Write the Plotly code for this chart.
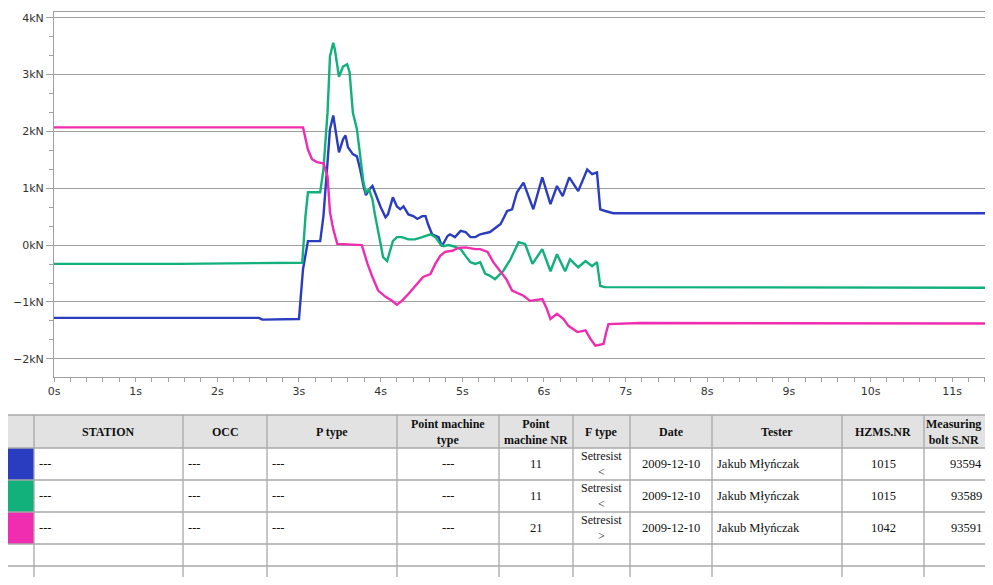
import plotly.graph_objects as go

# ---------------- chart data (time in s, force in kN) ----------------
t_blue = [0.0, 2.51, 2.55, 3.0, 3.05, 3.11, 3.26, 3.30, 3.35, 3.38, 3.42, 3.44, 3.49, 3.54, 3.57,
          3.60, 3.66, 3.71, 3.75, 3.79, 3.82, 3.86, 3.90, 3.93, 4.0, 4.06, 4.09, 4.15, 4.2, 4.24,
          4.28, 4.34, 4.40, 4.45, 4.51, 4.55, 4.58, 4.63, 4.71, 4.75, 4.82, 4.85, 4.91, 4.98, 5.04,
          5.10, 5.16, 5.22, 5.34, 5.47, 5.55, 5.61, 5.67, 5.75, 5.87, 5.98, 6.08, 6.16, 6.23, 6.31,
          6.42, 6.53, 6.59, 6.65, 6.69, 6.75, 6.85, 11.5]
f_blue = [-1.28, -1.28, -1.31, -1.30, -0.42, 0.07, 0.07, 0.51, 1.46, 2.04, 2.28, 2.09, 1.63, 1.86, 1.93,
          1.72, 1.6, 1.56, 1.33, 1.04, 0.88, 0.98, 1.04, 0.93, 0.67, 0.49, 0.54, 0.84, 0.68, 0.63,
          0.68, 0.54, 0.51, 0.46, 0.51, 0.51, 0.37, 0.19, 0.14, -0.02, 0.16, 0.19, 0.14, 0.25, 0.23,
          0.14, 0.14, 0.19, 0.23, 0.37, 0.6, 0.63, 0.93, 1.1, 0.63, 1.19, 0.72, 1.04, 0.86, 1.19,
          0.95, 1.33, 1.25, 1.28, 0.63, 0.6, 0.56, 0.56]

t_green = [0.0, 1.52, 3.04, 3.08, 3.11, 3.26, 3.30, 3.35, 3.38, 3.42, 3.44, 3.49, 3.54, 3.59, 3.62,
           3.66, 3.71, 3.75, 3.79, 3.82, 3.86, 3.90, 3.93, 4.0, 4.03, 4.08, 4.12, 4.15, 4.2, 4.26,
           4.34, 4.42, 4.51, 4.55, 4.61, 4.67, 4.73, 4.77, 4.83, 4.89, 4.98, 5.04, 5.10, 5.16, 5.22,
           5.28, 5.34, 5.40, 5.5, 5.59, 5.69, 5.77, 5.86, 5.98, 6.08, 6.16, 6.26, 6.32, 6.42, 6.51,
           6.59, 6.65, 6.69, 6.75, 11.5]
f_green = [-0.33, -0.33, -0.31, 0.51, 0.93, 0.93, 1.33, 2.33, 3.32, 3.56, 3.44, 2.96, 3.14, 3.18, 3.04,
           2.33, 2.04, 1.56, 1.1, 0.93, 0.98, 0.8, 0.54, 0.02, -0.21, -0.28, -0.1, 0.07, 0.14, 0.14,
           0.1, 0.1, 0.14, 0.16, 0.19, 0.14, 0.02, -0.02, 0.0, -0.02, -0.07, -0.19, -0.3, -0.33, -0.3,
           -0.5, -0.54, -0.6, -0.46, -0.25, 0.05, 0.02, -0.33, -0.07, -0.46, -0.16, -0.46, -0.25, -0.39, -0.28,
           -0.37, -0.3, -0.72, -0.74, -0.75]

t_pink = [0.0, 3.05, 3.11, 3.16, 3.22, 3.30, 3.35, 3.38, 3.42, 3.47, 3.77, 3.81, 3.84, 3.90, 3.97,
          4.06, 4.14, 4.2, 4.26, 4.34, 4.45, 4.52, 4.61, 4.67, 4.73, 4.79, 4.88, 4.95, 5.04, 5.16,
          5.22, 5.31, 5.38, 5.47, 5.54, 5.61, 5.75, 5.83, 5.98, 6.03, 6.08, 6.16, 6.24, 6.3, 6.41,
          6.51, 6.57, 6.63, 6.73, 6.76, 6.79, 7.18, 11.5]
f_pink = [2.07, 2.07, 1.68, 1.51, 1.46, 1.44, 1.21, 0.58, 0.28, 0.02, 0.0, -0.19, -0.33, -0.56, -0.8,
          -0.91, -0.98, -1.05, -0.98, -0.86, -0.68, -0.56, -0.51, -0.33, -0.19, -0.12, -0.1, -0.05, -0.04, -0.07,
          -0.07, -0.12, -0.3, -0.47, -0.6, -0.8, -0.89, -0.98, -0.95, -1.1, -1.3, -1.21, -1.3, -1.42, -1.53,
          -1.5, -1.65, -1.77, -1.74, -1.55, -1.39, -1.37, -1.38]

series_colors = ["#2a3cc0", "#12b07a", "#f02cb0"]

# ---------------- table data ----------------
header_labels = ["", "STATION", "OCC", "P type", "Point machine<br>type", "Point<br>machine NR",
                 "F type", "Date", "Tester", "HZMS.NR", "Measuring<br>bolt S.NR"]
col_station = ["---", "---", "---"]
col_occ = ["---", "---", "---"]
col_ptype = ["---", "---", "---"]
col_pm_type = ["---", "---", "---"]
col_pm_nr = ["11", "11", "21"]
col_ftype = ["Setresist<br>&lt;", "Setresist<br>&lt;", "Setresist<br>&gt;"]
col_date = ["2009-12-10", "2009-12-10", "2009-12-10"]
col_tester = ["Jakub Młyńczak", "Jakub Młyńczak", "Jakub Młyńczak"]
col_hzms = ["1015", "1015", "1042"]
col_bolt = ["93594", "93589", "93591"]

# ---------------- layout geometry (page pixels) ----------------
PAGE_W, PAGE_H = 993, 585
OFF = 8                      # default body margin of the html page
W, H = PAGE_W - OFF, PAGE_H - 2 * OFF     # keep page free of scrollbars
PLOT_L, PLOT_T, PLOT_B = 54, 12, 377       # plot area edges on the page
ML, MR, MT = PLOT_L - OFF, 0, PLOT_T - OFF
MB = H - (PLOT_B - OFF)
col_edges = [7, 34, 183, 267, 397, 499, 573, 630, 712, 842, 924, 1020]
row_edges = [415, 448, 480, 512, 544, 566, 600]
col_align = ["left", "left", "left", "left", "center", "center", "center", "center", "left", "center", "center"]


def px_x(x):
    return (x - PLOT_L) / (W - ML - MR)


def px_y(y):
    return (PLOT_B - y) / (H - MT - MB)


fig = go.Figure()
for t, f, c in [(t_blue, f_blue, series_colors[0]),
                (t_green, f_green, series_colors[1]),
                (t_pink, f_pink, series_colors[2])]:
    fig.add_trace(go.Scatter(x=t, y=f, mode="lines", line=dict(color=c, width=2.4),
                             showlegend=False, hoverinfo="skip"))

axis_grey = "#a0a0a0"
tick_font = dict(family="DejaVu Sans", size=11, color="#333333")

fig.update_xaxes(range=[0, 11.5], dtick=1, tick0=0, ticksuffix="s", showgrid=False,
                 showline=True, linecolor=axis_grey, linewidth=1, mirror=True,
                 ticks="outside", ticklen=4, tickcolor=axis_grey, tickfont=tick_font,
                 zeroline=False,
                 minor=dict(dtick=0.2, ticks="outside", ticklen=4, tickcolor=axis_grey, showgrid=False))
fig.update_yaxes(range=[-2.32, 4.1], dtick=1, tick0=0, ticksuffix="kN", showgrid=True,
                 gridcolor=axis_grey, gridwidth=1.3, zeroline=False,
                 showline=True, linecolor=axis_grey, linewidth=1,
                 ticks="outside", ticklen=7, tickcolor=axis_grey, tickfont=tick_font,
                 minor=dict(dtick=1 / 3, ticks="outside", ticklen=4, tickcolor=axis_grey, showgrid=False))

shapes = []
annotations = []
line_grey = "#a8a8a8"

# header background
shapes.append(dict(type="rect", xref="paper", yref="paper",
                   x0=px_x(col_edges[0]), x1=px_x(col_edges[-1]),
                   y0=px_y(row_edges[0]), y1=px_y(row_edges[1]),
                   fillcolor="#e2e2e2", line=dict(width=0), layer="below"))
# colour swatches
for i, c in enumerate(series_colors):
    shapes.append(dict(type="rect", xref="paper", yref="paper",
                       x0=px_x(col_edges[0]), x1=px_x(col_edges[1]),
                       y0=px_y(row_edges[i + 1]), y1=px_y(row_edges[i + 2]),
                       fillcolor=c, line=dict(width=0), layer="below"))
# grid lines
for y in row_edges[:-1]:
    shapes.append(dict(type="line", xref="paper", yref="paper",
                       x0=px_x(col_edges[0]), x1=px_x(col_edges[-1]), y0=px_y(y), y1=px_y(y),
                       line=dict(color=line_grey, width=1.3)))
for x in col_edges[:-1]:
    shapes.append(dict(type="line", xref="paper", yref="paper",
                       x0=px_x(x), x1=px_x(x), y0=px_y(row_edges[0]), y1=px_y(row_edges[-1]),
                       line=dict(color=line_grey, width=1.3)))

# header texts
last = len(header_labels) - 1
for j, lab in enumerate(header_labels):
    if not lab:
        continue
    cy = (row_edges[0] + row_edges[1]) / 2
    if j == last:
        x, xa = px_x(983), "right"
    else:
        x, xa = px_x((col_edges[j] + col_edges[j + 1]) / 2), "center"
    annotations.append(dict(x=x, y=px_y(cy), xref="paper", yref="paper", text="<b>" + lab + "</b>",
                            showarrow=False, xanchor=xa, yanchor="middle",
                            font=dict(family="Liberation Serif", size=12, color="#111111")))

columns = [None, col_station, col_occ, col_ptype, col_pm_type, col_pm_nr, col_ftype,
           col_date, col_tester, col_hzms, col_bolt]
for j, col in enumerate(columns):
    if col is None:
        continue
    for i, val in enumerate(col):
        cy = (row_edges[i + 1] + row_edges[i + 2]) / 2
        if col_align[j] == "left":
            x = px_x(col_edges[j] + 3)
            xa = "left"
        elif j == last:
            x = px_x(966)
            xa = "center"
        else:
            x = px_x((col_edges[j] + col_edges[j + 1]) / 2)
            xa = "center"
        size = 12 if "<br>" in val else 12.5
        annotations.append(dict(x=x, y=px_y(cy), xref="paper", yref="paper", text=val,
                                showarrow=False, xanchor=xa, yanchor="middle",
                                font=dict(family="Liberation Serif", size=size, color="#111111")))

fig.update_layout(width=W, height=H, margin=dict(l=ML, r=MR, t=MT, b=MB, pad=0),
                  paper_bgcolor="white", plot_bgcolor="white",
                  shapes=shapes, annotations=annotations, showlegend=False)

fig.write_html("out.html")
